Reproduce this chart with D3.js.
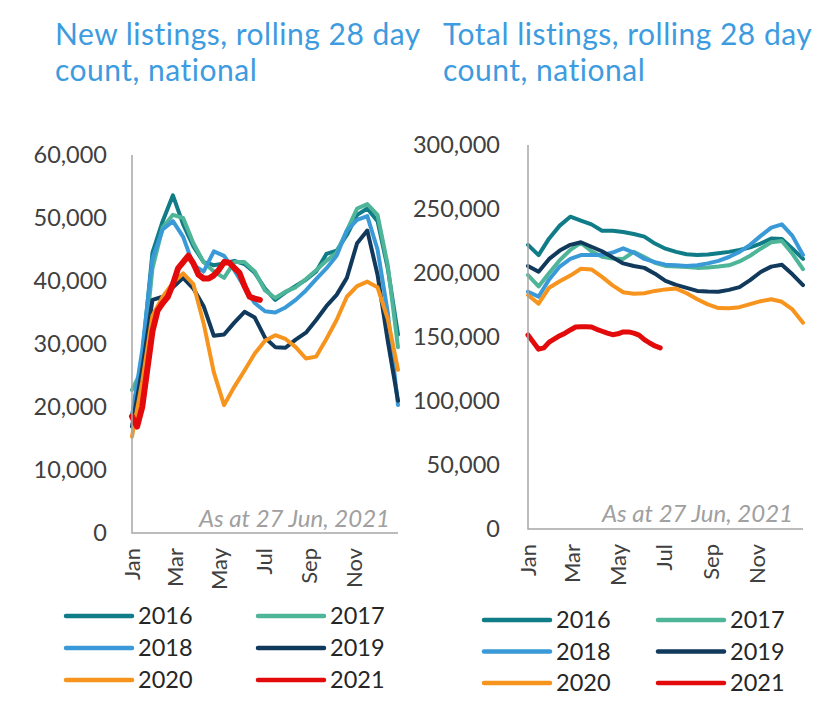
<!DOCTYPE html>
<html><head><meta charset="utf-8">
<script src="https://cdn.jsdelivr.net/npm/d3@7"></script>
<style>body{margin:0;background:#fff}svg{display:block}</style>
</head><body>
<svg id="c" width="836" height="707"></svg>
<script>
// ---- data ----
const years = ["2016", "2017", "2018", "2019", "2020", "2021"];
const colors = ["#0f7c87", "#4fb598", "#3a9ad8", "#10395c", "#f7941d", "#e20a0a"];
// day-of-year of each fortnightly point (full years)
const days = [0, 14, 28, 42, 56, 70, 84, 98, 112, 126, 140, 154, 168, 182, 196, 210, 224, 238, 252, 266, 280, 294, 308, 322, 336, 350, 364];
// day-of-year of each weekly point for 2021 (as at 27 Jun)
const days2021 = [0, 7, 14, 21, 28, 35, 42, 49, 56, 63, 70, 77, 84, 91, 98, 105, 112, 119, 126, 133, 140, 147, 154, 161, 168, 175];
const monthTicks = [0, 59, 120, 181, 243, 304];
const monthLabels = ["Jan", "Mar", "May", "Jul", "Sep", "Nov"];

// New listings (thousands)
const new2016 = [18.5, 28, 44.5, 49.5, 53.6, 49, 45.5, 43, 42.5, 42.8, 43.2, 42.7, 41.3, 38.8, 37, 38.2, 39.2, 40.2, 41.5, 44.3, 44.8, 47.3, 50.5, 51.5, 49.5, 42, 31.5];
const new2017 = [22.7, 26, 42, 48.5, 50.5, 50, 46, 43, 41.5, 40.5, 43, 43, 41.5, 38.5, 37.3, 38.3, 39, 40.3, 41.7, 43.2, 44.5, 48, 51.5, 52.2, 50.5, 42.5, 29.5];
const new2018 = [18.5, 29, 43.5, 48.2, 49.5, 47, 42.5, 41.5, 44.7, 44, 41.7, 39, 36.5, 35.2, 35, 35.8, 37, 38.5, 40.3, 42, 44, 48, 49.7, 50.3, 45, 35, 20.3];
const new2019 = [16.9, 26, 37, 37.5, 39, 40.5, 38.8, 36, 31.3, 31.5, 33.4, 35.1, 34.2, 31, 29.5, 29.4, 30.7, 31.8, 33.8, 36, 37.8, 40.5, 46, 48, 41, 30.5, 21];
const new2020 = [15.3, 24, 34.5, 37.5, 39.7, 41.2, 39.5, 33.3, 25.5, 20.3, 23.2, 25.8, 28.5, 30.5, 31.4, 30.8, 29.5, 27.7, 28, 30.8, 33.8, 37.5, 39.2, 39.9, 39, 34, 25.9];
const new2021 = [18.5, 16.9, 20, 26, 32, 35.3, 36.5, 37.5, 39.5, 42, 43, 44, 42.8, 41, 40.4, 40.4, 40.9, 41.8, 43, 42.9, 42.1, 41.3, 39.2, 37.5, 37.2, 37];

// Total listings (thousands)
const tot2016 = [222, 214, 227, 237, 244, 241, 238, 233, 233, 232, 230.5, 228.4, 223, 219, 216.5, 214.6, 214, 214.5, 215.5, 216.5, 218, 220, 223, 227, 226.5, 219, 211];
const tot2017 = [198.4, 189.5, 200, 210, 218, 223.5, 217, 212.7, 211.4, 211, 216.5, 212.5, 208, 205.5, 205, 204.7, 204, 204.3, 205, 206, 209, 213.5, 219, 224, 225, 215, 203];
const tot2018 = [185.4, 181.5, 195, 205, 211, 214, 214, 214, 216, 219.3, 216, 211, 208.5, 206.5, 206, 205.5, 206, 207.5, 209.5, 212.5, 216.5, 222, 229, 235.5, 238, 229, 214];
const tot2019 = [205.5, 201, 211, 217.5, 222, 224, 220.5, 217, 212.2, 207.5, 205.5, 204, 199.5, 193.8, 190.7, 188.4, 186, 185.6, 185.4, 186.8, 189, 194.5, 200.8, 205, 206.5, 199, 190.6];
const tot2020 = [182.8, 176, 188.5, 193.5, 198, 203.3, 202.8, 197, 190.3, 185, 183.8, 184.2, 186, 187.2, 187.8, 184.2, 179.5, 175.5, 172.6, 172.5, 173.3, 175.7, 178, 179.5, 177.5, 171.5, 161.2];
const tot2021 = [151.6, 146, 140.5, 141.5, 146, 148.5, 151, 153, 155.5, 157.8, 158, 158, 157.8, 156, 154.5, 153, 151.8, 152.5, 154, 154, 153, 151.5, 148, 145.3, 143, 141.5];

const newTicks = [0, 10000, 20000, 30000, 40000, 50000, 60000];
const totTicks = [0, 50000, 100000, 150000, 200000, 250000, 300000];

// ---- drawing ----
const FONT = "Lato, 'Open Sans', sans-serif";
const svg = d3.select("#c");

function panel(cfg) {
  const x = d3.scaleLinear().domain([0, 364]).range([cfg.left, cfg.right]);
  const y = d3.scaleLinear().domain([0, cfg.max]).range([cfg.bottom, cfg.top]);
  const g = svg.append("g");

  // title (two lines)
  g.selectAll(".tt").data(cfg.title).join("text")
    .attr("x", cfg.titleX).attr("y", (d, i) => 45 + i * 36)
    .attr("font-family", FONT).attr("font-size", 30).attr("letter-spacing", 0.5)
    .attr("fill", "#3d9be0").text(d => d);

  // y labels
  g.selectAll(".yl").data(cfg.ticks).join("text")
    .attr("x", cfg.labelX).attr("y", d => y(d)).attr("dy", "0.35em")
    .attr("text-anchor", "end").attr("font-family", FONT).attr("font-size", 23.5)
    .attr("fill", "#404040").text(d => d3.format(",")(d));

  // x labels (rotated)
  g.selectAll(".xl").data(monthTicks).join("text")
    .attr("transform", d => `translate(${x(d)},${cfg.bottom + 15}) rotate(-90)`)
    .attr("dy", "0.35em").attr("text-anchor", "end")
    .attr("font-family", FONT).attr("font-size", 22).attr("fill", "#404040")
    .text((d, i) => monthLabels[i]);

  // annotation
  g.append("text").attr("x", cfg.noteX).attr("y", cfg.noteY)
    .attr("text-anchor", "end").attr("font-family", FONT).attr("font-style", "italic")
    .attr("font-size", 24).attr("fill", "#a0a0a0").text("As at 27 Jun, 2021");

  // lines
  const line = d3.line().x(d => x(d[0])).y(d => y(d[1] * 1000));
  cfg.series.forEach((vals, i) => {
    const ds = i === 5 ? days2021 : days;
    g.append("path").datum(ds.map((d, j) => [d, vals[j]]))
      .attr("d", line).attr("fill", "none").attr("stroke", colors[i])
      .attr("stroke-width", i === 5 ? cfg.redW : 4)
      .attr("stroke-linejoin", "round").attr("stroke-linecap", "round");
  });

  // axes
  g.append("path").attr("d", `M${cfg.left},${y(cfg.max)}V${cfg.bottom}H${cfg.right}`)
    .attr("fill", "none").attr("stroke", "#a6a6a6").attr("stroke-width", 1.5);

  // legend
  const lg = g.selectAll(".lg").data(years).join("g")
    .attr("transform", (d, i) => `translate(${i % 2 ? cfg.legX2 : cfg.legX1},${cfg.legY + Math.floor(i / 2) * cfg.legStep})`);
  lg.append("line").attr("x1", 0).attr("x2", 66).attr("stroke", (d, i) => colors[i])
    .attr("stroke-width", 4.5).attr("stroke-linecap", "round");
  lg.append("text").attr("x", 72).attr("dy", "0.35em").attr("font-family", FONT)
    .attr("font-size", 23.5).attr("fill", "#262626").text(d => d);
}

panel({
  title: ["New listings, rolling 28 day", "count, national"], titleX: 55,
  left: 132, right: 398, top: 155, bottom: 533, max: 60000, ticks: newTicks, labelX: 107,
  noteX: 390, noteY: 527, redW: 6,
  series: [new2016, new2017, new2018, new2019, new2020, new2021],
  legX1: 66, legX2: 258, legY: 616, legStep: 32
});
panel({
  title: ["Total listings, rolling 28 day", "count, national"], titleX: 443,
  left: 528, right: 803, top: 145, bottom: 529, max: 300000, ticks: totTicks, labelX: 500,
  noteX: 793, noteY: 522, redW: 5,
  series: [tot2016, tot2017, tot2018, tot2019, tot2020, tot2021],
  legX1: 484, legX2: 658, legY: 620, legStep: 31.5
});
</script>
</body></html>
